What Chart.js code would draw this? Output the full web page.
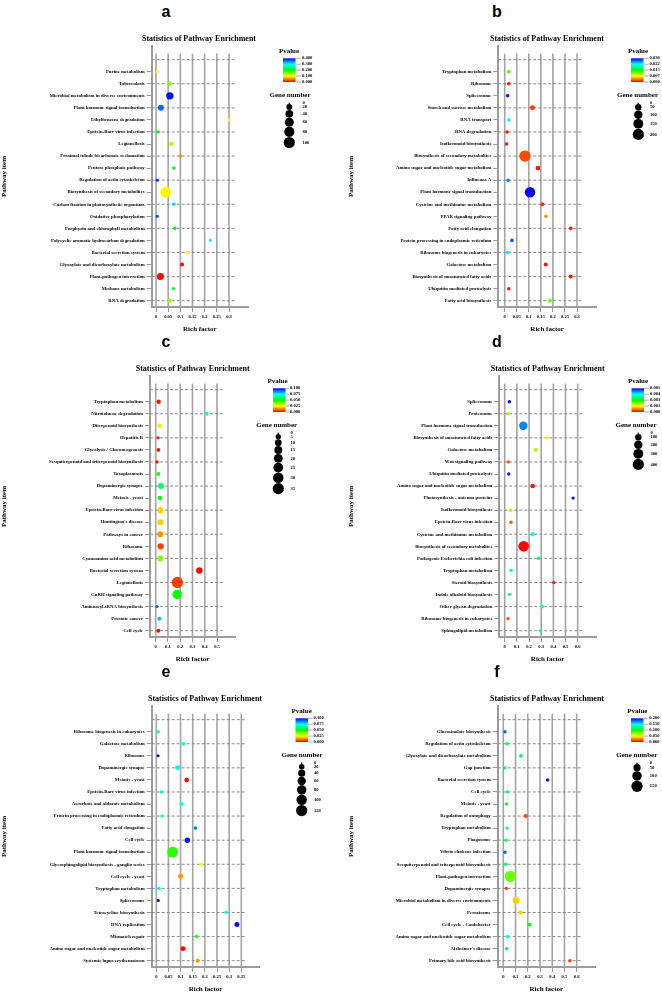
<!DOCTYPE html>
<html>
<head>
<meta charset="utf-8">
<script src="https://cdn.jsdelivr.net/npm/chart.js@4.4.1/dist/chart.umd.min.js"></script>
<style>
  body { margin: 0; background: #fff; width: 662px; height: 992px; position: relative; overflow: hidden; }
  canvas { position: absolute; }
  .tag { position: absolute; font: bold 16px "Liberation Sans", Arial, sans-serif; transform: translate(-50%, -50%); }
</style>
</head>
<body>
<script>
// ---- panel a ----
const aLabels = ['Purine metabolism', 'Tuberculosis', 'Microbial metabolism in diverse environments', 'Plant hormone signal transduction', 'Ethylbenzene degradation', 'Epstein-Barr virus infection', 'Legionellosis', 'Proximal tubule bicarbonate reclamation', 'Pentose phosphate pathway', 'Regulation of actin cytoskeleton', 'Biosynthesis of secondary metabolites', 'Carbon fixation in photosynthetic organisms', 'Oxidative phosphorylation', 'Porphyrin and chlorophyll metabolism', 'Polycyclic aromatic hydrocarbon degradation', 'Bacterial secretion system', 'Glyoxylate and dicarboxylate metabolism', 'Plant-pathogen interaction', 'Methane metabolism', 'RNA degradation'];
const aRich = [0.005, 0.055, 0.057, 0.02, 0.3, 0.007, 0.063, 0.1, 0.073, 0.005, 0.04, 0.073, 0.005, 0.077, 0.223, 0.13, 0.107, 0.018, 0.071, 0.056];
const aGenes = [3, 8, 36, 21, 2, 3, 8, 4, 4, 3, 96, 4, 3, 4, 3, 6, 6, 32, 4, 8];
const aPvalue = [0.1, 0.15, 0.395, 0.36, 0.097, 0.2, 0.133, 0.058, 0.217, 0.375, 0.097, 0.317, 0.367, 0.208, 0.3, 0.1, 0.003, 0.001, 0.225, 0.142];
const aXTicks = [0, 0.05, 0.1, 0.15, 0.2, 0.25, 0.3];
const aPTicks = ['0.400', '0.300', '0.200', '0.100', '0.000'];
const aPMax = 0.4;
const aGeneTicks = [0, 20, 40, 60, 80, 100];

// ---- panel b ----
const bLabels = ['Tryptophan metabolism', 'Ribosome', 'Spliceosome', 'Starch and sucrose metabolism', 'RNA transport', 'RNA degradation', 'Isoflavonoid biosynthesis', 'Biosynthesis of secondary metabolites', 'Amino sugar and nucleotide sugar metabolism', 'Influenza A', 'Plant hormone signal transduction', 'Cysteine and methionine metabolism', 'PPAR signaling pathway', 'Fatty acid elongation', 'Protein processing in endoplasmic reticulum', 'Ribosome biogenesis in eukaryotes', 'Galactose metabolism', 'Biosynthesis of unsaturated fatty acids', 'Ubiquitin mediated proteolysis', 'Fatty acid biosynthesis'];
const bRich = [0.017, 0.017, 0.012, 0.115, 0.017, 0.01, 0.008, 0.084, 0.138, 0.014, 0.105, 0.156, 0.171, 0.274, 0.03, 0.011, 0.17, 0.274, 0.017, 0.188];
const bGenes = [10, 9, 7, 25, 9, 7, 7, 205, 20, 8, 168, 12, 9, 9, 9, 8, 12, 12, 8, 11];
const bPvalue = [0.0125, 0.0006, 0.0294, 0.0019, 0.0225, 0.0004, 0.0003, 0.0022, 0.0006, 0.026, 0.0299, 0.0015, 0.0044, 0.0006, 0.0275, 0.023, 0.0004, 0.0004, 0.0004, 0.012];
const bXTicks = [0, 0.05, 0.1, 0.15, 0.2, 0.25, 0.3];
const bPTicks = ['0.030', '0.022', '0.015', '0.007', '0.000'];
const bPMax = 0.03;
const bGeneTicks = [0, 50, 100, 150, 200];

// ---- panel c ----
const cLabels = ['Tryptophan metabolism', 'Nitrotoluene degradation', 'Diterpenoid biosynthesis', 'Hepatitis B', 'Glycolysis / Gluconeogenesis', 'Sesquiterpenoid and triterpenoid biosynthesis', 'Toxoplasmosis', 'Dopaminergic synapse', 'Meiosis - yeast', 'Epstein-Barr virus infection', "Huntington's disease", 'Pathways in cancer', 'Ribosome', 'Cyanoamino acid metabolism', 'Bacterial secretion system', 'Legionellosis', 'GnRH signaling pathway', 'Aminoacyl-tRNA biosynthesis', 'Prostate cancer', 'Cell cycle'];
const cRich = [0.024, 0.416, 0.03, 0.019, 0.022, 0.011, 0.022, 0.043, 0.035, 0.04, 0.04, 0.038, 0.04, 0.038, 0.356, 0.177, 0.174, 0.011, 0.03, 0.022];
const cGenes = [3, 2, 3, 1, 2, 1, 2, 7, 4, 8, 8, 8, 8, 7, 9, 36, 23, 1, 2, 2];
const cPvalue = [0.002, 0.071, 0.023, 0.002, 0.002, 0.001, 0.048, 0.06, 0.052, 0.021, 0.02, 0.015, 0.006, 0.0375, 0.001, 0.006, 0.049, 0.09, 0.083, 0.001];
const cXTicks = [0, 0.1, 0.2, 0.3, 0.4, 0.5];
const cPTicks = ['0.100', '0.075', '0.050', '0.025', '0.000'];
const cPMax = 0.1;
const cGeneTicks = [0, 5, 10, 15, 20, 25, 30, 35];

// ---- panel d ----
const dLabels = ['Spliceosome', 'Proteasome', 'Plant hormone signal transduction', 'Biosynthesis of unsaturated fatty acids', 'Galactose metabolism', 'Wnt signaling pathway', 'Ubiquitin mediated proteolysis', 'Amino sugar and nucleotide sugar metabolism', 'Photosynthesis - antenna proteins', 'Isoflavonoid biosynthesis', 'Epstein-Barr virus infection', 'Cysteine and methionine metabolism', 'Biosynthesis of secondary metabolites', 'Pathogenic Escherichia coli infection', 'Tryptophan metabolism', 'Steroid biosynthesis', 'Indole alkaloid biosynthesis', 'Other glycan degradation', 'Ribosome biogenesis in eukaryotes', 'Sphingolipid metabolism'];
const dRich = [0.038, 0.03, 0.153, 0.348, 0.255, 0.03, 0.033, 0.23, 0.562, 0.047, 0.052, 0.23, 0.156, 0.277, 0.052, 0.403, 0.038, 0.31, 0.027, 0.293];
const dGenes = [17, 14, 200, 17, 32, 12, 15, 39, 12, 17, 17, 32, 352, 17, 17, 11, 14, 17, 12, 17];
const dPvalue = [0.0053, 0.0019, 0.0047, 0.0013, 0.0018, 0.00045, 0.0052, 0.0001, 0.0053, 0.0017, 0.0005, 0.004, 0.00002, 0.0034, 0.0041, 0.00005, 0.0035, 0.004, 0.00045, 0.0036];
const dXTicks = [0, 0.1, 0.2, 0.3, 0.4, 0.5, 0.6];
const dPTicks = ['0.005', '0.004', '0.003', '0.001', '0.000'];
const dPMax = 0.0054;
const dGeneTicks = [0, 100, 200, 300, 400];

// ---- panel e ----
const eLabels = ['Ribosome biogenesis in eukaryotes', 'Galactose metabolism', 'Ribosome', 'Dopaminergic synapse', 'Meiosis - yeast', 'Epstein-Barr virus infection', 'Ascorbate and aldarate metabolism', 'Protein processing in endoplasmic reticulum', 'Fatty acid elongation', 'Cell cycle', 'Plant hormone signal transduction', 'Glycosphingolipid biosynthesis - ganglio series', 'Cell cycle - yeast', 'Tryptophan metabolism', 'Spliceosome', 'Tetracycline biosynthesis', 'DNA replication', 'Mismatch repair', 'Amino sugar and nucleotide sugar metabolism', 'Systemic lupus erythematosus'];
const eRich = [0.007, 0.111, 0.007, 0.088, 0.125, 0.021, 0.103, 0.023, 0.161, 0.128, 0.067, 0.185, 0.1, 0.012, 0.008, 0.287, 0.332, 0.166, 0.11, 0.17];
const eGenes = [3, 6, 3, 15, 12, 4, 7, 4, 5, 19, 115, 5, 15, 4, 3, 4, 15, 5, 15, 6];
const ePvalue = [0.067, 0.074, 0.098, 0.073, 0.001, 0.071, 0.072, 0.07, 0.0875, 0.098, 0.046, 0.024, 0.015, 0.072, 0.098, 0.075, 0.099, 0.048, 0.001, 0.015];
const eXTicks = [0, 0.05, 0.1, 0.15, 0.2, 0.25, 0.3, 0.35];
const ePTicks = ['0.100', '0.075', '0.050', '0.025', '0.000'];
const ePMax = 0.1;
const eGeneTicks = [0, 20, 40, 60, 80, 100, 120];

// ---- panel f ----
const fLabels = ['Glucosinolate biosynthesis', 'Regulation of actin cytoskeleton', 'Glyoxylate and dicarboxylate metabolism', 'Gap junction', 'Bacterial secretion system', 'Cell cycle', 'Meiosis - yeast', 'Regulation of autophagy', 'Tryptophan metabolism', 'Phagosome', 'Vibrio cholerae infection', 'Sesquiterpenoid and triterpenoid biosynthesis', 'Plant-pathogen interaction', 'Dopaminergic synapse', 'Microbial metabolism in diverse environments', 'Peroxisome', 'Cell cycle - Caulobacter', 'Amino sugar and nucleotide sugar metabolism', "Alzheimer's disease", 'Primary bile acid biosynthesis'];
const fRich = [0.014, 0.03, 0.144, 0.014, 0.362, 0.033, 0.025, 0.183, 0.03, 0.022, 0.014, 0.019, 0.057, 0.025, 0.104, 0.142, 0.213, 0.035, 0.027, 0.545];
const fGenes = [5, 5, 8, 4, 6, 5, 5, 9, 5, 5, 5, 5, 155, 5, 47, 13, 8, 8, 5, 5];
const fPvalue = [0.179, 0.117, 0.117, 0.117, 0.196, 0.121, 0.104, 0.0125, 0.121, 0.117, 0.179, 0.117, 0.079, 0.0125, 0.042, 0.042, 0.104, 0.142, 0.117, 0.0125];
const fXTicks = [0, 0.1, 0.2, 0.3, 0.4, 0.5, 0.6];
const fPTicks = ['0.200', '0.150', '0.100', '0.050', '0.000'];
const fPMax = 0.2;
const fGeneTicks = [0, 50, 100, 150];

// page layout (pixels inside each panel)
const W = 331, H = 336;
const AXIS_TOP = 46, ROW_FIRST = 71.7, ROW_LAST = 300.7, AXIS_BOTTOM = 307;
const SERIF = '"Liberation Serif", "Times New Roman", serif';

const panels = [
  { tag: 'a', ox: 0, oy: 0, labels: aLabels, rich: aRich, genes: aGenes, pv: aPvalue, xTicks: aXTicks, pTicks: aPTicks, pMax: aPMax, gTicks: aGeneTicks,
    L: { axisX: 151.7, x0: 156, xLast: 229, gridEnd: 235, right: 248, yTitlePad: 0, titleX: 199, barX: 283, pvCx: 289, gCx: 289.3, labX: 302, gTitleCx: 290 } },
  { tag: 'b', ox: 331, oy: 0, labels: bLabels, rich: bRich, genes: bGenes, pv: bPvalue, xTicks: bXTicks, pTicks: bPTicks, pMax: bPMax, gTicks: bGeneTicks,
    L: { axisX: 167.3, x0: 173.7, xLast: 246, gridEnd: 251.7, right: 265, yTitlePad: 15.8, titleX: 216, barX: 300, pvCx: 307, gCx: 307.3, labX: 318.5, gTitleCx: 306.5 } },
  { tag: 'c', ox: 0, oy: 330, labels: cLabels, rich: cRich, genes: cGenes, pv: cPvalue, xTicks: cXTicks, pTicks: cPTicks, pMax: cPMax, gTicks: cGeneTicks,
    L: { axisX: 150, x0: 155.7, xLast: 217, gridEnd: 222.7, right: 235, yTitlePad: 0, titleX: 192.7, barX: 273, pvCx: 277.5, gCx: 278.3, labX: 290, gTitleCx: 276.7 } },
  { tag: 'd', ox: 331, oy: 330, labels: dLabels, rich: dRich, genes: dGenes, pv: dPvalue, xTicks: dXTicks, pTicks: dPTicks, pMax: dPMax, gTicks: dGeneTicks,
    L: { axisX: 168.3, x0: 173.7, xLast: 246.7, gridEnd: 252.3, right: 265, yTitlePad: 15.8, titleX: 216.7, barX: 300.5, pvCx: 307, gCx: 307.3, labX: 319, gTitleCx: 305 } },
  { tag: 'e', ox: 0, oy: 660, labels: eLabels, rich: eRich, genes: eGenes, pv: ePvalue, xTicks: eXTicks, pTicks: ePTicks, pMax: ePMax, gTicks: eGeneTicks,
    L: { axisX: 151.7, x0: 156.3, xLast: 241.3, gridEnd: 246.7, right: 259.3, yTitlePad: 0, titleX: 205, barX: 295.5, pvCx: 301.7, gCx: 301.7, labX: 313.5, gTitleCx: 302 } },
  { tag: 'f', ox: 331, oy: 660, labels: fLabels, rich: fRich, genes: fGenes, pv: fPvalue, xTicks: fXTicks, pTicks: fPTicks, pMax: fPMax, gTicks: fGeneTicks,
    L: { axisX: 166.7, x0: 172.3, xLast: 245.7, gridEnd: 251.7, right: 264, yTitlePad: 15.8, titleX: 216, barX: 300, pvCx: 306.3, gCx: 306, labX: 318.3, gTitleCx: 305.8 } }
];

function pColor(p, max) {
  const h = 240 * Math.min(p / max, 1);
  return `hsl(${h}, 100%, 50%)`;
}
function radius(n, max) {
  return 0.8 + 4.8 * Math.sqrt(n / max);
}

const gridPlugin = {
  id: 'enrichGrid',
  beforeDatasetsDraw(chart) {
    const { ctx, chartArea, scales: { x, y } } = chart;
    const P = chart.config.options.panel;
    ctx.save();
    // vertical lines at x ticks
    ctx.strokeStyle = '#a4a4a4';
    ctx.lineWidth = 1.6;
    const vTop = y.getPixelForValue(-0.5);
    P.xTicks.forEach(t => {
      const px = x.getPixelForValue(t);
      ctx.beginPath();
      ctx.moveTo(px, vTop);
      ctx.lineTo(px, chartArea.bottom);
      ctx.stroke();
    });
    // dashed horizontal lines at every other row
    ctx.strokeStyle = '#8a8a8a';
    ctx.lineWidth = 1;
    ctx.setLineDash([3, 2]);
    const xEnd = x.getPixelForValue(P.gridEndVal);
    for (let r = 0; r <= P.labels.length; r += 2) {
      const py = y.getPixelForValue(r);
      ctx.beginPath();
      ctx.moveTo(chartArea.left, py);
      ctx.lineTo(xEnd, py);
      ctx.stroke();
    }
    ctx.restore();
  },
  afterDraw(chart) {
    const { ctx } = chart;
    const P = chart.config.options.panel;
    const L = P.L;
    ctx.save();
    ctx.fillStyle = '#000';
    ctx.textBaseline = 'middle';
    // title
    ctx.textAlign = 'center';
    ctx.font = `bold 8px ${SERIF}`;
    ctx.fillText('Statistics of Pathway Enrichment', L.titleX, 39);
    // p-value colour bar
    ctx.font = `bold 7px ${SERIF}`;
    ctx.fillText('Pvalue', L.pvCx, 51);
    const barTop = 58.3, barBot = 82, barW = 12.5;
    const g = ctx.createLinearGradient(0, barTop, 0, barBot);
    for (let i = 0; i <= 8; i++) g.addColorStop(i / 8, `hsl(${240 - 30 * i}, 100%, 50%)`);
    ctx.fillStyle = g;
    ctx.fillRect(L.barX, barTop, barW, barBot - barTop);
    ctx.fillStyle = '#000';
    ctx.textAlign = 'left';
    ctx.font = `bold 4.6px ${SERIF}`;
    ctx.strokeStyle = '#999';
    ctx.lineWidth = 0.8;
    P.pTicks.forEach((t, i) => {
      const ty = barTop + (barBot - barTop) * i / (P.pTicks.length - 1);
      ctx.beginPath();
      ctx.moveTo(L.barX + barW, ty);
      ctx.lineTo(L.labX - 1, ty);
      ctx.stroke();
      ctx.fillText(t, L.labX, ty);
    });
    // gene number legend
    ctx.textAlign = 'center';
    ctx.font = `bold 7px ${SERIF}`;
    ctx.fillText('Gene number', L.gTitleCx, 95.5);
    const gMax = P.gTicks[P.gTicks.length - 1];
    let cy = 103.3, prevR = 0;
    ctx.font = `bold 4.6px ${SERIF}`;
    P.gTicks.forEach((n, i) => {
      const r = radius(n, gMax);
      if (i > 0) cy += prevR + r;
      ctx.beginPath();
      ctx.arc(L.gCx, cy, r, 0, Math.PI * 2);
      ctx.fill();
      ctx.textAlign = 'left';
      ctx.fillText(String(n), L.labX + 0.5, cy);
      prevR = r;
    });
    ctx.restore();
  }
};

panels.forEach(P => {
  const L = P.L;
  const tag = document.createElement('div');
  tag.className = 'tag';
  tag.textContent = P.tag;
  tag.style.left = (P.ox + 166) + 'px';
  tag.style.top = (P.oy + 12) + 'px';
  document.body.appendChild(tag);

  const cv = document.createElement('canvas');
  cv.width = W; cv.height = H;
  cv.style.left = P.ox + 'px';
  cv.style.top = P.oy + 'px';
  document.body.appendChild(cv);

  const lastTick = P.xTicks[P.xTicks.length - 1];
  const ppu = (L.xLast - L.x0) / lastTick;
  const xMin = (L.axisX - L.x0) / ppu;
  const xMax = (L.right - L.x0) / ppu;
  P.gridEndVal = (L.gridEnd - L.x0) / ppu;
  const n = P.labels.length;
  const rowH = (ROW_LAST - ROW_FIRST) / (n - 1);
  const yMin = 1 - (ROW_FIRST - AXIS_TOP) / rowH;
  const yMax = n + (AXIS_BOTTOM - ROW_LAST) / rowH;
  const gMax = P.gTicks[P.gTicks.length - 1];

  new Chart(cv, {
    type: 'bubble',
    data: {
      datasets: [{
        data: P.labels.map((_, i) => ({ x: P.rich[i], y: i + 1, r: radius(P.genes[i], gMax) })),
        backgroundColor: P.pv.map(p => pColor(p, P.pMax)),
        borderWidth: 0,
        hoverBorderWidth: 0,
        clip: false
      }]
    },
    options: {
      panel: P,
      responsive: false,
      devicePixelRatio: 1,
      animation: false,
      events: [],
      layout: { padding: { left: 0, top: AXIS_TOP, right: W - L.right, bottom: 0 } },
      plugins: { legend: { display: false }, tooltip: { enabled: false } },
      scales: {
        x: {
          type: 'linear',
          min: xMin,
          max: xMax,
          afterBuildTicks: s => { s.ticks = P.xTicks.map(v => ({ value: v })); },
          afterFit: s => { s.height = H - AXIS_BOTTOM; },
          ticks: {
            autoSkip: false,
            maxRotation: 0,
            padding: 2.5,
            color: '#000',
            font: { family: SERIF, size: 4.6, weight: 'bold' },
            callback: v => String(v)
          },
          grid: { drawOnChartArea: false, drawTicks: true, tickLength: 5, tickColor: '#999', tickWidth: 1 },
          border: { display: true, color: '#9c9c9c', width: 2 },
          title: {
            display: true,
            text: 'Rich factor',
            color: '#000',
            font: { family: SERIF, size: 7, weight: 'bold' },
            padding: { top: 0, bottom: 2.8 }
          }
        },
        y: {
          type: 'linear',
          reverse: true,
          min: yMin,
          max: yMax,
          afterBuildTicks: s => { s.ticks = P.labels.map((_, i) => ({ value: i + 1 })); },
          afterFit: s => { s.width = L.axisX; },
          ticks: {
            autoSkip: false,
            padding: 2,
            color: '#000',
            font: { family: SERIF, size: 4.8, weight: 'bold' },
            callback: v => P.labels[v - 1]
          },
          grid: { drawOnChartArea: false, drawTicks: true, tickLength: 5, tickColor: '#999', tickWidth: 1 },
          border: { display: true, color: '#9c9c9c', width: 2 },
          title: {
            display: true,
            text: 'Pathway item',
            color: '#000',
            font: { family: SERIF, size: 7, weight: 'bold' },
            padding: { top: L.yTitlePad, bottom: 0 }
          }
        }
      }
    },
    plugins: [gridPlugin]
  });
});
</script>
</body>
</html>
